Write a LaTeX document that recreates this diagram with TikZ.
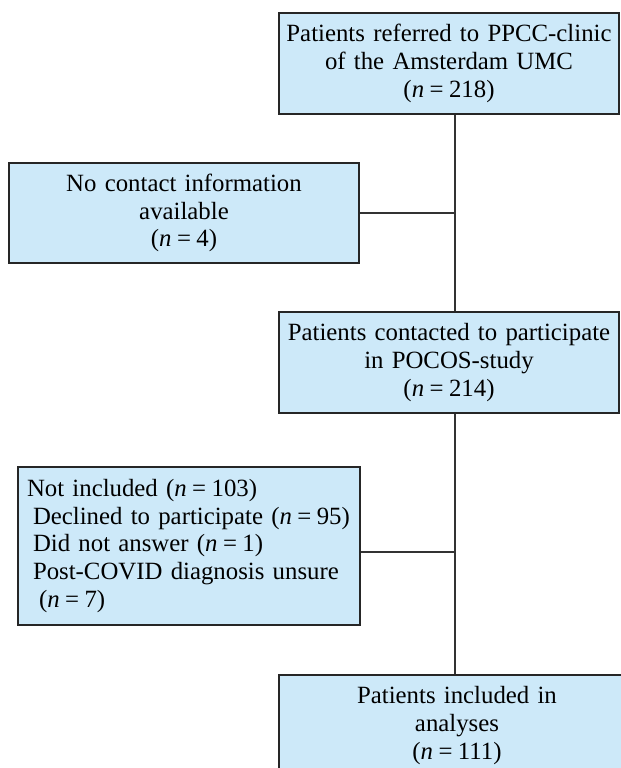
\documentclass[tikz,border=0pt]{standalone}
\usepackage{fontspec}
\setmainfont{Liberation Serif}
\usetikzlibrary{positioning}
\definecolor{boxblue}{RGB}{205,233,249}
\newcommand{\cnt}[1]{(\textit{n}\kern.22em=\kern.22em#1)}
\tikzset{
  flowbox/.style={draw=black!85, line width=1.2pt, fill=boxblue, inner sep=0pt,
    minimum height=75.75pt, align=center, font=\fontsize{18.6}{20.8}\selectfont},
  link/.style={draw=black!80, line width=1pt}
}
\begin{document}
\begin{tikzpicture}[x=0.75pt,y=-0.75pt]
        \useasboundingbox (0,0) rectangle (621,768);
        \clip (0,0) rectangle (621,768);
        \begin{scope}
          \def\trunkx{455}

          \node[flowbox, minimum width=255pt, text width=250pt] (referred) at (449,63.5)
            {Patients referred to PPCC-clinic\\of the Amsterdam UMC\\\cnt{218}};
          \node[flowbox, minimum width=262.5pt, minimum height=75pt, text width=255pt] (nocontact) at (184,213)
            {No contact information\\available\\\cnt{4}};
          \node[flowbox, minimum width=255pt, text width=250pt] (contacted) at (449,362.5)
            {Patients contacted to participate\\in POCOS-study\\\cnt{214}};
          \node[flowbox, minimum width=256.5pt, minimum height=118.5pt, text width=243pt, align=left] (notincl) at (189,546)
            {Not included \cnt{103}\\
             \hspace*{4.5pt}Declined to participate \cnt{95}\\
             \hspace*{4.5pt}Did not answer \cnt{1}\\
             \hspace*{4.5pt}Post-COVID diagnosis unsure\\
             \hspace*{9pt}\cnt{7}};
          \node[flowbox, minimum width=267pt, text width=260pt] (included) at (457,725.5)
            {Patients included in\\analyses\\\cnt{111}};

          \coordinate (trunk) at (\trunkx,0);
          \coordinate (split) at (\trunkx,552);
          \draw[link] (referred.south -| trunk) -- (contacted.north -| trunk);
          \draw[link] (nocontact.east) -- (nocontact.east -| trunk);
          \draw[link] (contacted.south -| trunk) -- (included.north -| trunk);
          \draw[link] (split) -- (split -| notincl.east);
        \end{scope}
      \end{tikzpicture}
\end{document}
